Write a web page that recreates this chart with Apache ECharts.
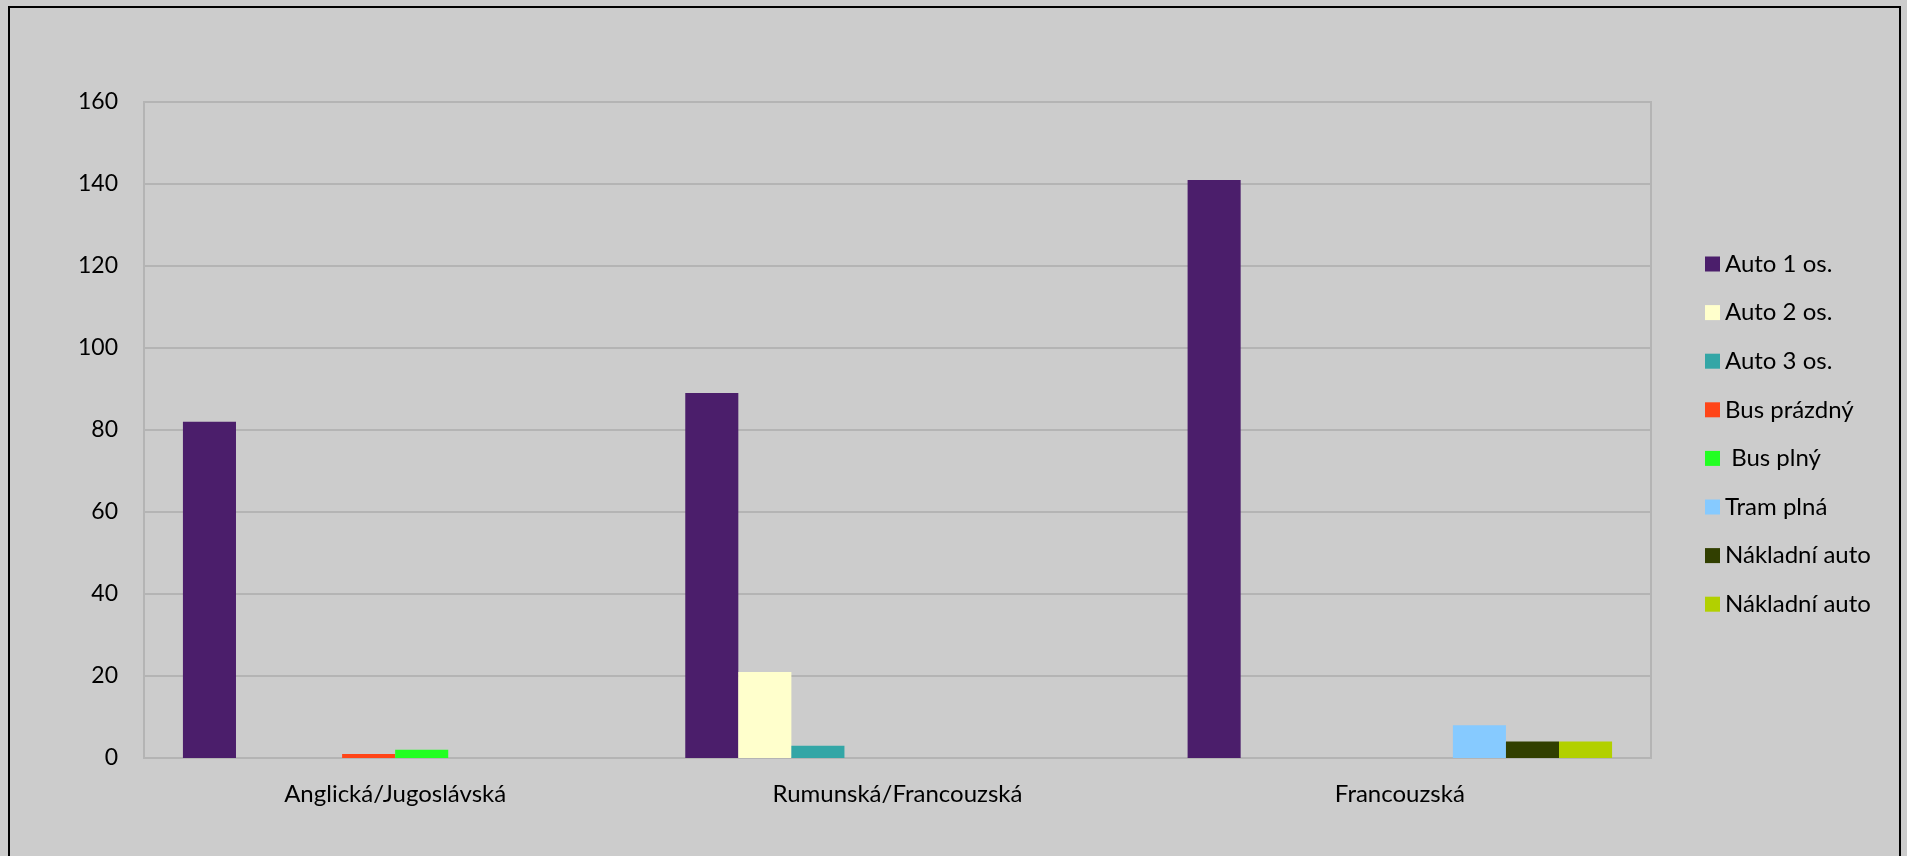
<!DOCTYPE html>
<html>
<head>
<meta charset="utf-8">
<title>Vozidla podle křižovatky</title>
<script src="https://cdn.jsdelivr.net/npm/echarts@6/dist/echarts.min.js"></script>
<style>
  html, body { margin: 0; padding: 0; background: #cccccc; }
  #chart { width: 1907px; height: 856px; }
</style>
</head>
<body>
<div id="chart"></div>
<script>
// Categories on the x axis
const categories = ['Anglická/Jugoslávská', 'Rumunská/Francouzská', 'Francouzská'];

// Series names (the two truck series share a label, the trailing space keeps them apart)
const seriesNames = ['Auto 1 os.', 'Auto 2 os.', 'Auto 3 os.', 'Bus prázdný', ' Bus plný', 'Tram plná', 'Nákladní auto', 'Nákladní auto '];

// Values per series, one entry per category (null = no bar)
const auto1 = [82, 89, 141];
const auto2 = [null, 21, null];
const auto3 = [null, 3, null];
const busEmpty = [1, null, null];
const busFull = [2, null, null];
const tramFull = [null, null, 8];
const truckA = [null, null, 4];
const truckB = [null, null, 4];

// Y axis ticks
const yTicks = [0, 20, 40, 60, 80, 100, 120, 140, 160];

const seriesValues = [auto1, auto2, auto3, busEmpty, busFull, tramFull, truckA, truckB];
const colors = ['#4b1e6b', '#ffffcc', '#33a6a6', '#ff4518', '#22ff22', '#86caff', '#313f00', '#b2d000'];

const FONT = 'Lato, "Open Sans", sans-serif';

const chart = echarts.init(document.getElementById('chart'), null, { renderer: 'canvas' });

const option = {
  backgroundColor: '#cccccc',
  animation: false,
  color: colors,
  textStyle: { fontFamily: FONT },
  graphic: [{
    type: 'rect',
    shape: { x: 9, y: 7, width: 1891, height: 900 },
    style: { fill: 'none', stroke: '#000000', lineWidth: 2 },
    silent: true,
    z: 0
  }],
  grid: {
    left: 144,
    right: 256,
    top: 102,
    bottom: 98,
    show: true,
    borderColor: '#b4b4b4',
    borderWidth: 2,
    backgroundColor: 'transparent'
  },
  legend: {
    orient: 'vertical',
    left: 1700,
    top: 247,
    itemWidth: 15,
    itemHeight: 15,
    itemGap: 24.6,
    icon: 'rect',
    data: seriesNames,
    textStyle: { fontFamily: FONT, fontSize: 24, color: '#000000', lineHeight: 20 }
  },
  xAxis: {
    type: 'category',
    data: categories,
    axisLine: { show: true, lineStyle: { color: '#b4b4b4', width: 2 } },
    axisTick: { show: false },
    axisLabel: { margin: 24, fontFamily: FONT, fontSize: 24, color: '#000000' },
    splitLine: { show: false }
  },
  yAxis: {
    type: 'value',
    min: yTicks[0],
    max: yTicks[yTicks.length - 1],
    interval: yTicks[1] - yTicks[0],
    axisLine: { show: false },
    axisTick: { show: false },
    axisLabel: { margin: 26, fontFamily: FONT, fontSize: 23, color: '#000000' },
    splitLine: { show: true, lineStyle: { color: '#b4b4b4', width: 2 } }
  },
  series: seriesNames.map((name, i) => ({
    name: name,
    type: 'bar',
    data: seriesValues[i],
    barGap: '0%',
    barCategoryGap: '15.5%',
    itemStyle: { color: colors[i] }
  }))
};

chart.setOption(option);
</script>
</body>
</html>
